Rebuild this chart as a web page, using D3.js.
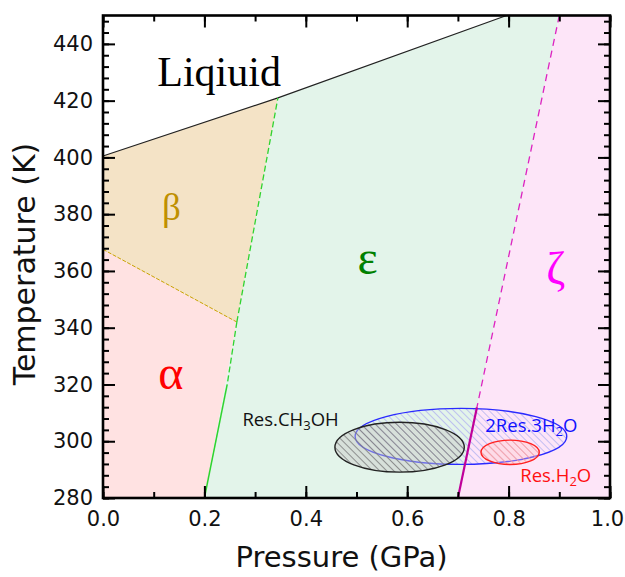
<!DOCTYPE html>
<html lang="en">
<head>
<meta charset="UTF-8">
<title>phase diagram</title>
<style>
  body { margin: 0; background: #fff; }
  .Axis text { font-family: "DejaVu Sans", sans-serif; font-size: 21px; fill: #111; }
  .Axis line { stroke: #000; stroke-width: 2; }
  .Axis .domain { display: none; }
  .title { font-family: "DejaVu Sans", sans-serif; font-size: 29px; fill: #111; text-anchor: middle; }
  .phase { font-family: "Liberation Serif", "Times New Roman", serif; text-anchor: middle; }
  .sample { font-family: "Open Sans", sans-serif; font-size: 18.5px; }
</style>
<script src="https://d3js.org/d3.v7.min.js"></script>
</head>
<body>
<script>
// boundary lines, [pressure GPa, temperature K]
const liquidLine = [[0, 400.5], [0.345, 421], [0.796, 450]];
const alphaBetaLine = [[0, 367.6], [0.264, 342]];
const betaEpsLine = [[0.264, 342], [0.345, 421]];
const alphaEpsDashed = [[0.264, 342], [0.245, 320]];
const alphaEpsSolid = [[0.245, 320], [0.2, 280]];
const epsZetaDashed = [[0.9, 450], [0.7376, 312]];
const epsZetaSolid = [[0.7376, 312], [0.7, 280]];

// phase labels
const phaseNames = ["Liqiuid", "β", "α", "ε", "ζ"];
const phaseP = [0.229, 0.135, 0.134, 0.522, 0.893];
const phaseT = [425, 378, 318.3, 359, 355.5];

// sample ellipses: centre and half widths
const sampleNames = ["2Res.3H2O", "Res.CH3OH", "Res.H2O"];
const sampleP = [0.706, 0.585, 0.803];
const sampleT = [301.7, 297.9, 296.1];
const sampleRP = [0.2087, 0.1276, 0.0575];
const sampleRT = [9.87, 8.8, 4.3];

const xTicks = [0, 0.2, 0.4, 0.6, 0.8, 1.0];
const yTicks = [280, 300, 320, 340, 360, 380, 400, 420, 440];

const w = 625, h = 577;
const mLeft = 103, mRight = 610, mTop = 15.5, mBottom = 498;

const svg = d3.select("body").append("svg")
  .attr("width", w).attr("height", h);

const x = d3.scaleLinear().domain([0, 1]).range([mLeft, mRight]);
const y = d3.scaleLinear().domain([280, 450]).range([mBottom, mTop]);

const defs = svg.append("defs");
function hatch(id, color, bg) {
  const p = defs.append("pattern").attr("id", id)
    .attr("patternUnits", "userSpaceOnUse")
    .attr("width", 5).attr("height", 5)
    .attr("patternTransform", "rotate(-45)");
  p.append("rect").attr("width", 5).attr("height", 5).attr("fill", bg);
  p.append("line").attr("x1", 0).attr("y1", 0).attr("x2", 0).attr("y2", 5)
    .attr("stroke", color).attr("stroke-width", 1.6);
}
hatch("hBlue", "#b4b4f0", "rgba(255,255,255,0)");
hatch("hBlack", "#7a7a7a", "rgba(200,200,200,0.45)");
hatch("hRed", "#ff9c9c", "rgba(255,200,200,0.35)");

const line = d3.line().x(d => x(d[0])).y(d => y(d[1]));

// regions
const alphaPoly = [[0, 280], alphaEpsSolid[1], alphaBetaLine[1], alphaBetaLine[0]];
const betaPoly = [alphaBetaLine[0], alphaBetaLine[1], betaEpsLine[1], liquidLine[0]];
const epsPoly = [betaEpsLine[1], liquidLine[2], epsZetaDashed[0], epsZetaSolid[1],
  alphaEpsSolid[1], alphaBetaLine[1]];
const zetaPoly = [epsZetaSolid[1], epsZetaDashed[0], [1, 450], [1, 280]];

const regions = [[alphaPoly, "#ffe2e2"], [betaPoly, "#f4e3c6"], [epsPoly, "#e3f4ea"], [zetaPoly, "#fde5f8"]];
svg.selectAll("path.region").data(regions).enter().append("path")
  .attr("class", "region")
  .attr("d", d => line(d[0]) + "Z")
  .attr("fill", d => d[1]);

// ellipses
const ellColors = [["#2a2aff", "url(#hBlue)"], ["#222", "url(#hBlack)"], ["#ff2020", "url(#hRed)"]];
svg.selectAll("ellipse").data(sampleNames).enter().append("ellipse")
  .attr("cx", (d, i) => x(sampleP[i]))
  .attr("cy", (d, i) => y(sampleT[i]))
  .attr("rx", (d, i) => x(sampleP[i] + sampleRP[i]) - x(sampleP[i]))
  .attr("ry", (d, i) => y(sampleT[i] - sampleRT[i]) - y(sampleT[i]))
  .attr("fill", (d, i) => ellColors[i][1])
  .attr("stroke", (d, i) => ellColors[i][0])
  .attr("stroke-width", 1.4);

// boundaries
svg.append("path").attr("d", line(liquidLine)).attr("fill", "none").attr("stroke", "#222").attr("stroke-width", 1.2);
svg.append("path").attr("d", line(alphaBetaLine)).attr("fill", "none").attr("stroke", "#c9a200").attr("stroke-width", 1).attr("stroke-dasharray", "4,1.5");
svg.append("path").attr("d", line(betaEpsLine)).attr("fill", "none").attr("stroke", "#2fd32f").attr("stroke-width", 1.3).attr("stroke-dasharray", "6,3");
svg.append("path").attr("d", line(alphaEpsDashed)).attr("fill", "none").attr("stroke", "#2fd32f").attr("stroke-width", 1.3).attr("stroke-dasharray", "6,3");
svg.append("path").attr("d", line(alphaEpsSolid)).attr("fill", "none").attr("stroke", "#2fd32f").attr("stroke-width", 1.5);
svg.append("path").attr("d", line(epsZetaDashed)).attr("fill", "none").attr("stroke", "#dd22c0").attr("stroke-width", 1.3).attr("stroke-dasharray", "7,5");
svg.append("path").attr("d", line(epsZetaSolid)).attr("fill", "none").attr("stroke", "#c0009a").attr("stroke-width", 2.2);

// phase labels
const phaseColors = ["#000", "#bf9000", "#ff0000", "#008000", "#ff00ff"];
const phaseSizes = [42, 37, 48, 48, 46];
svg.selectAll("text.phase").data(phaseNames).enter().append("text")
  .attr("class", "phase")
  .attr("x", (d, i) => x(phaseP[i]))
  .attr("y", (d, i) => y(phaseT[i]))
  .attr("fill", (d, i) => phaseColors[i])
  .style("font-size", (d, i) => phaseSizes[i] + "px")
  .text(d => d);

// sample labels with subscripts
const sampleLabelPos = [[0.754, 303.3, "#1010ff"], [0.275, 305.3, "#111"], [0.823, 285.8, "#ff1010"]];
sampleNames.forEach((name, i) => {
  const t = svg.append("text").attr("class", "sample")
    .attr("x", x(sampleLabelPos[i][0])).attr("y", y(sampleLabelPos[i][1]))
    .attr("fill", sampleLabelPos[i][2]);
  const parts = name.match(/\d+|\D+/g);
  parts.forEach((part, k) => {
    const sub = /^\d+$/.test(part) && k > 0 && /[A-Z]$/.test(parts[k - 1]);
    const span = t.append("tspan").text(part);
    if (sub) span.attr("dy", 4).style("font-size", "13px");
    else if (k > 0 && /^\d+$/.test(parts[k - 1]) && /[A-Z]$/.test(parts[k - 2] || "")) span.attr("dy", -4);
  });
});

// axes
const xMinor = d3.range(0, 1.001, 0.1);
const yMinor = d3.range(280, 450.1, 4);

const xAxisG = svg.append("g").attr("class", "Axis").attr("transform", "translate(0," + mBottom + ")")
  .call(d3.axisBottom(x).tickValues(xTicks).tickFormat(d3.format(".1f")).tickSizeInner(-12).tickSizeOuter(0).tickPadding(13));
xAxisG.selectAll(".tick text").filter(d => d === 1).attr("dx", -3);
svg.append("g").attr("class", "Axis").attr("transform", "translate(0," + mBottom + ")")
  .call(d3.axisBottom(x).tickValues(xMinor).tickFormat("").tickSizeInner(-6).tickSizeOuter(0));
svg.append("g").attr("class", "Axis").attr("transform", "translate(0," + mTop + ")")
  .call(d3.axisTop(x).tickValues(xTicks).tickFormat("").tickSizeInner(-12).tickSizeOuter(0));
svg.append("g").attr("class", "Axis").attr("transform", "translate(0," + mTop + ")")
  .call(d3.axisTop(x).tickValues(xMinor).tickFormat("").tickSizeInner(-6).tickSizeOuter(0));

svg.append("g").attr("class", "Axis").attr("transform", "translate(" + mLeft + ",0)")
  .call(d3.axisLeft(y).tickValues(yTicks).tickSizeInner(-12).tickSizeOuter(0).tickPadding(10));
svg.append("g").attr("class", "Axis").attr("transform", "translate(" + mLeft + ",0)")
  .call(d3.axisLeft(y).tickValues(yMinor).tickFormat("").tickSizeInner(-6).tickSizeOuter(0));
svg.append("g").attr("class", "Axis").attr("transform", "translate(" + mRight + ",0)")
  .call(d3.axisRight(y).tickValues(yTicks).tickFormat("").tickSizeInner(-12).tickSizeOuter(0));
svg.append("g").attr("class", "Axis").attr("transform", "translate(" + mRight + ",0)")
  .call(d3.axisRight(y).tickValues(yMinor).tickFormat("").tickSizeInner(-6).tickSizeOuter(0));

svg.append("rect").attr("x", mLeft).attr("y", mTop)
  .attr("width", mRight - mLeft).attr("height", mBottom - mTop)
  .attr("fill", "none").attr("stroke", "#000").attr("stroke-width", 2.6);

svg.append("text").attr("class", "title")
  .attr("x", (mLeft + mRight) / 2 - 15).attr("y", 567)
  .text("Pressure (GPa)");
svg.append("text").attr("class", "title")
  .attr("transform", "translate(35," + 264 + ") rotate(-90)")
  .style("font-size", "30px")
  .text("Temperature (K)");
</script>
</body>
</html>
